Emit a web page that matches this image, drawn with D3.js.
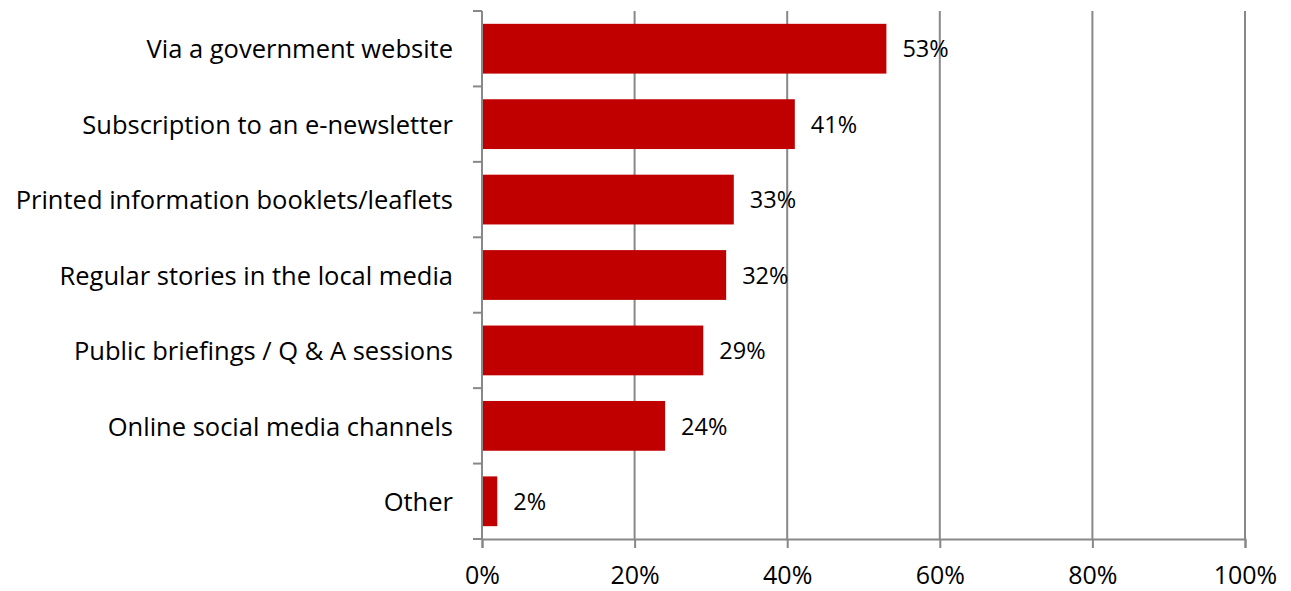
<!DOCTYPE html>
<html>
<head>
<meta charset="utf-8">
<script src="https://cdn.jsdelivr.net/npm/d3@7"></script>
<style>
  body { margin: 0; background: #fff; }
  text { font-family: "Open Sans", sans-serif; fill: #000; }
</style>
</head>
<body>
<div class="chart"></div>
<script>
var svgWidth = 1291;
var svgHeight = 591;

var margin = { top: 11, right: 46, bottom: 52, left: 482 };

var width = svgWidth - margin.left - margin.right;
var height = svgHeight - margin.top - margin.bottom;

// chart data
var categories = [
  "Via a government website",
  "Subscription to an e-newsletter",
  "Printed information booklets/leaflets",
  "Regular stories in the local media",
  "Public briefings / Q & A sessions",
  "Online social media channels",
  "Other"
];
var values = [53, 41, 33, 32, 29, 24, 2];
var xTicks = [0, 20, 40, 60, 80, 100];

var gridColor = "#888888";

var svg = d3.select(".chart")
  .append("svg")
  .attr("width", svgWidth)
  .attr("height", svgHeight);

var chartGroup = svg.append("g")
  .attr("transform", `translate(${margin.left}, ${margin.top})`);

var xScale = d3.scaleLinear()
  .domain([0, 100])
  .range([0, width]);

var yScale = d3.scaleBand()
  .domain(categories)
  .range([0, height])
  .paddingInner(0.34)
  .paddingOuter(0.17);

// vertical gridlines
chartGroup.selectAll(".grid")
  .data(xTicks.slice(1))
  .enter()
  .append("line")
  .attr("x1", d => xScale(d))
  .attr("x2", d => xScale(d))
  .attr("y1", 0)
  .attr("y2", height)
  .attr("stroke", gridColor)
  .attr("stroke-width", 2);

// bars
chartGroup.selectAll("rect")
  .data(values)
  .enter()
  .append("rect")
  .attr("x", 0)
  .attr("y", (d, i) => yScale(categories[i]))
  .attr("width", d => xScale(d))
  .attr("height", yScale.bandwidth())
  .attr("fill", "#C00000");

// value labels
chartGroup.selectAll(".value")
  .data(values)
  .enter()
  .append("text")
  .attr("class", "value")
  .attr("x", d => xScale(d) + 16)
  .attr("y", (d, i) => yScale(categories[i]) + yScale.bandwidth() / 2)
  .attr("dy", "0.37em")
  .style("font-size", "23.5px")
  .text(d => d + "%");

// x axis
var bottomAxis = d3.axisBottom(xScale)
  .tickValues(xTicks)
  .tickSize(9)
  .tickPadding(18)
  .tickFormat(d => d + "%");

var xAxis = chartGroup.append("g")
  .attr("transform", `translate(0, ${height})`)
  .call(bottomAxis);

xAxis.select(".domain").attr("stroke", gridColor).attr("stroke-width", 2);
xAxis.selectAll(".tick line").attr("stroke", gridColor).attr("stroke-width", 2);
xAxis.selectAll(".tick text")
  .style("font-size", "25px")
  .attr("fill", "#000")
  .style("font-family", "'Open Sans', sans-serif");

// y axis: ticks between categories
var yBounds = d3.range(categories.length + 1).map(i => i * height / categories.length);

chartGroup.append("line")
  .attr("x1", 0).attr("x2", 0)
  .attr("y1", 0).attr("y2", height)
  .attr("stroke", gridColor)
  .attr("stroke-width", 2);

chartGroup.selectAll(".ytick")
  .data(yBounds)
  .enter()
  .append("line")
  .attr("x1", -9).attr("x2", 0)
  .attr("y1", d => d).attr("y2", d => d)
  .attr("stroke", gridColor)
  .attr("stroke-width", 2);

// category labels
chartGroup.selectAll(".cat")
  .data(categories)
  .enter()
  .append("text")
  .attr("class", "cat")
  .attr("x", -29)
  .attr("y", d => yScale(d) + yScale.bandwidth() / 2)
  .attr("dy", "0.38em")
  .attr("text-anchor", "end")
  .style("font-size", "25.5px")
  .text(d => d);
</script>
</body>
</html>
